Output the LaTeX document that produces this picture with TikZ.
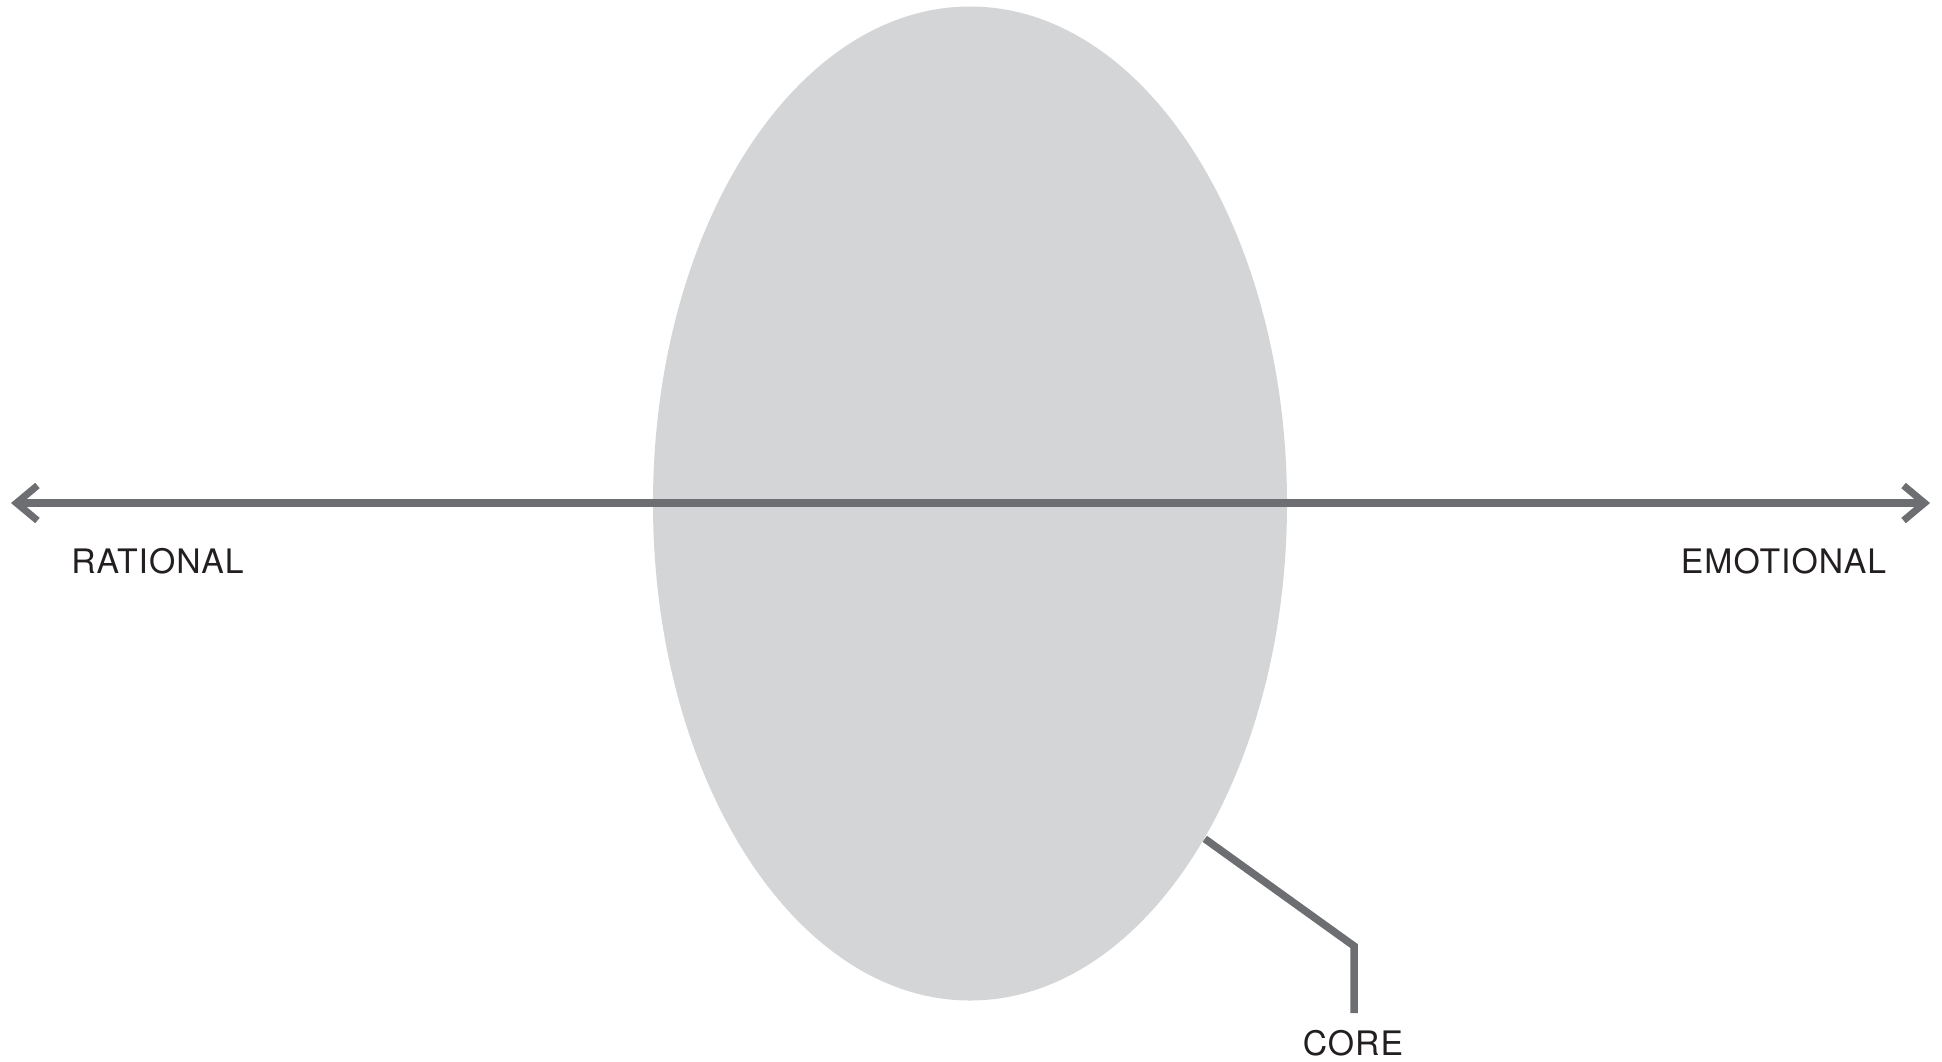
\documentclass[tikz,border=0pt]{standalone}
\usepackage{fontspec}
\setmainfont{TeX Gyre Heros}[LetterSpace=3]
\usepackage{xcolor}
\usepackage{tikz}
\usetikzlibrary{positioning}
\usetikzlibrary{shapes.geometric}
\usetikzlibrary{arrows.meta}

\definecolor{axisgray}{HTML}{6D6E71}
\definecolor{coregray}{HTML}{D4D5D7}
\definecolor{textblack}{HTML}{231F20}

\tikzset{barb/.tip={Straight Barb[length=2.1mm, width=3.5mm, line width=0.7mm]}}

\begin{document}
\begin{tikzpicture}[x=0.1mm,y=-0.1mm,
    axis/.style={draw=axisgray, line width=0.75mm},
    lbl/.style={anchor=base, inner sep=0pt, text=textblack, font=\fontsize{9.6pt}{11pt}\selectfont}]
    \useasboundingbox (0,0) rectangle (1942,1061);

    \node[ellipse, fill=coregray, inner sep=0pt,
          minimum width=63.4mm, minimum height=99.4mm] (core) at (970,503.5) {};

    \coordinate (left)  at (11,503);
    \coordinate (right) at (1930,503);
    \coordinate (bend)  at (1354,946);
    \coordinate (foot)  at (1354,1013);

    \draw[axis, barb-barb] (left) -- (right);
    \draw[axis, line join=miter] (core.-55.5) -- (bend) -- (foot);

    \node[lbl] (rational)  at (157.5,573) {RATIONAL};
    \node[lbl] (emotional) at (1783.5,573) {EMOTIONAL};
    \node[lbl] (corelbl)   at (1353,1055) {CORE};
\end{tikzpicture}
\end{document}
